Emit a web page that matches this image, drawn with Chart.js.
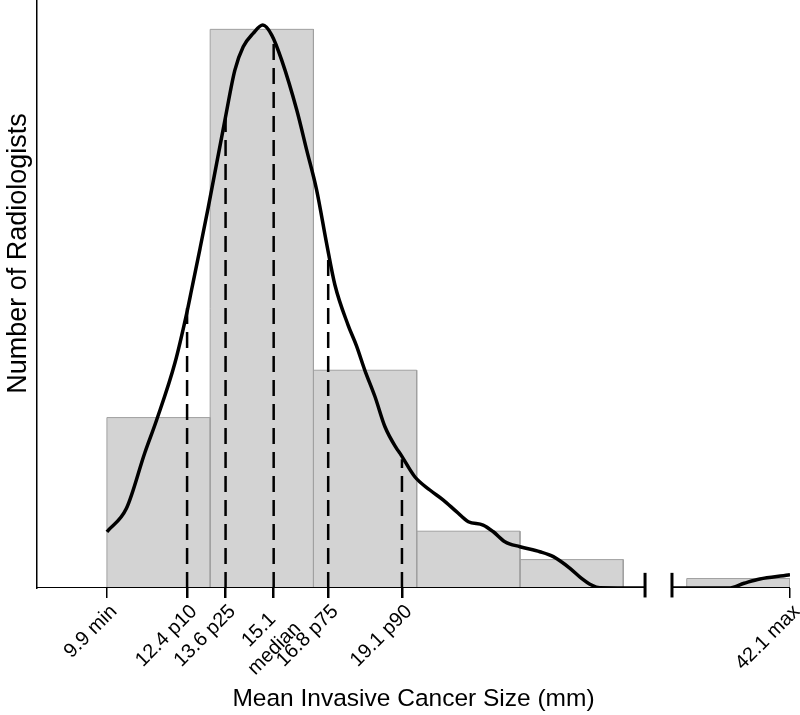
<!DOCTYPE html>
<html>
<head>
<meta charset="utf-8">
<title>Mean Invasive Cancer Size</title>
<script src="https://cdn.jsdelivr.net/npm/chart.js@4.4.1/dist/chart.umd.min.js"></script>
<style>
  html, body { margin: 0; padding: 0; background: #fff; overflow: hidden; }
  canvas { display: block; }
</style>
</head>
<body>
<canvas id="sizeChart" width="800" height="715"></canvas>
<script>
// histogram bins (mm) and counts of radiologists
const binEdges = [9.9, 13.12, 16.34, 19.56, 22.78, 26.0, 29.22, 32.44, 35.66, 38.88, 42.1];
const binCounts = [18, 59, 23, 6, 3, 0, 0, 0, 0, 1];

// density curve (scaled to counts)
const curveLeftX = [9.9, 10.51, 11.08, 11.45, 12.02, 12.39, 12.54, 12.8, 13.06, 13.58, 13.89, 14.15, 14.46, 14.76, 15.04,
  15.35, 15.82, 16.13, 16.44, 16.75, 17.01, 17.42, 17.68, 17.94, 18.26, 18.57, 18.93, 19.04, 19.5, 19.97,
  20.39, 20.8, 21.17, 21.63, 21.95, 22.31, 22.78, 23.4, 23.82, 24.34, 24.7, 25.01, 25.27, 26.68];
const curveLeftY = [5.94, 8.42, 14.26, 17.74, 23.76, 29.04, 31.5, 35.8, 40.2, 49.42, 54.7, 57.16, 58.57, 59.45, 58.4,
  55.75, 50.48, 46.25, 42.03, 36.4, 32.0, 27.77, 25.6, 23.02, 20.2, 17.03, 14.75, 14.22, 11.75, 10.35,
  9.29, 8.06, 7.0, 6.65, 5.94, 4.89, 4.36, 3.83, 3.31, 2.08, 1.02, 0.32, 0.03, 0];
const curveRightX = [38.42, 40.18, 40.67, 41.16, 42.05, 42.1];
const curveRightY = [0, 0, 0.5, 0.95, 1.37, 1.4];

// percentile markers
const pctX = [12.4, 13.6, 15.1, 16.8, 19.1];
const pctTop = [29.6, 49.6, 57.7, 35.2, 13.6];

// axis ticks
const tickValues = [9.9, 12.4, 13.6, 15.1, 16.8, 19.1, 42.1];
const tickLabels = ['9.9 min', '12.4 p10', '13.6 p25', ['15.1  ', 'median'], '16.8 p75', '19.1 p90', '42.1 max'];

// broken x axis
const axisStart = 7.72;
const breakLo = 26.68;
const breakHi = 38.42;
const breakShift = 10.9;
const yMax = 62.1;

const xTitle = 'Mean Invasive Cancer Size (mm)';
const yTitle = 'Number of Radiologists';

function toAxis(v) {
    return v >= breakHi ? v - breakShift : v;
}

function pt(x, y) {
    return { x: toAxis(x), y: y };
}

const datasets = [];

// bars as filled rectangles
binCounts.forEach((c, i) => {
    if (c === 0) return;
    const lo = binEdges[i], hi = binEdges[i + 1];
    datasets.push({
        data: [pt(lo, 0), pt(lo, c), pt(hi, c), pt(hi, 0)],
        borderColor: '#a0a0a0',
        borderWidth: 1,
        backgroundColor: '#d3d3d3',
        fill: 'origin',
        pointRadius: 0,
        order: 6
    });
});

// x axis line with a gap
datasets.push({
    data: [pt(axisStart, 0), pt(breakLo, 0), { x: (breakLo + toAxis(breakHi)) / 2, y: null }, pt(breakHi, 0), pt(42.1, 0)],
    borderColor: '#000',
    borderWidth: 2,
    spanGaps: false,
    pointRadius: 0,
    order: 5
});

// dashed percentile lines
pctX.forEach((p, i) => {
    datasets.push({
        data: [pt(p, 0), pt(p, pctTop[i])],
        borderColor: '#000',
        borderWidth: 2.5,
        borderDash: [16, 8],
        pointRadius: 0,
        order: 4
    });
});

// density curve, both pieces
datasets.push({
    data: curveLeftX.map((x, i) => pt(x, curveLeftY[i])),
    borderColor: '#000',
    borderWidth: 3.5,
    cubicInterpolationMode: 'monotone',
    pointRadius: 0,
    order: 3
});
datasets.push({
    data: curveRightX.map((x, i) => pt(x, curveRightY[i])),
    borderColor: '#000',
    borderWidth: 3.5,
    cubicInterpolationMode: 'monotone',
    pointRadius: 0,
    order: 3
});

// break caps
[breakLo, breakHi].forEach(b => {
    datasets.push({
        data: [pt(b, -1.0), pt(b, 1.6)],
        borderColor: '#000',
        borderWidth: 3,
        pointRadius: 0,
        clip: false,
        order: 1
    });
});

const yTitlePlugin = {
    id: 'yTitle',
    afterDraw(chart) {
        const ctx = chart.ctx;
        ctx.save();
        ctx.translate(26, 253.5);
        ctx.rotate(-Math.PI / 2);
        ctx.font = '27px "Liberation Sans", Arial, sans-serif';
        ctx.fillStyle = '#000';
        ctx.textAlign = 'center';
        ctx.textBaseline = 'alphabetic';
        ctx.fillText(yTitle, 0, 0);
        ctx.restore();
    }
};

Chart.defaults.font.family = '"Liberation Sans", Arial, sans-serif';
Chart.defaults.color = '#000';

new Chart(document.getElementById('sizeChart').getContext('2d'), {
    type: 'line',
    data: { datasets: datasets },
    options: {
        responsive: false,
        animation: false,
        devicePixelRatio: 1,
        layout: { padding: { left: 37, right: 10, top: 0, bottom: 0 } },
        plugins: {
            legend: { display: false },
            tooltip: { enabled: false }
        },
        scales: {
            x: {
                type: 'linear',
                min: axisStart,
                max: toAxis(42.1),
                afterFit(scale) {
                    scale.height = 127;
                    scale.paddingLeft = 0;
                    scale.paddingRight = 0;
                },
                afterBuildTicks(scale) {
                    scale.ticks = tickValues.map(v => ({ value: toAxis(v) }));
                },
                border: { display: false },
                grid: {
                    drawOnChartArea: false,
                    drawTicks: true,
                    tickLength: 10,
                    color: '#000',
                    lineWidth: ctx => (ctx.index === 0 || ctx.index === tickValues.length - 1) ? 1.5 : 2.5
                },
                ticks: {
                    autoSkip: false,
                    minRotation: 45,
                    maxRotation: 45,
                    padding: 2,
                    labelOffset: 7,
                    font: { size: 20 },
                    color: '#000',
                    callback: (value, index) => tickLabels[index]
                },
                title: {
                    display: true,
                    text: xTitle,
                    font: { size: 24.5 },
                    color: '#000',
                    padding: { top: 0, bottom: 1 }
                }
            },
            y: {
                min: 0,
                max: yMax,
                grid: { display: false, drawTicks: false },
                border: { display: true, color: '#000', width: 1.5 },
                ticks: { display: false }
            }
        }
    },
    plugins: [yTitlePlugin]
});
</script>
</body>
</html>
